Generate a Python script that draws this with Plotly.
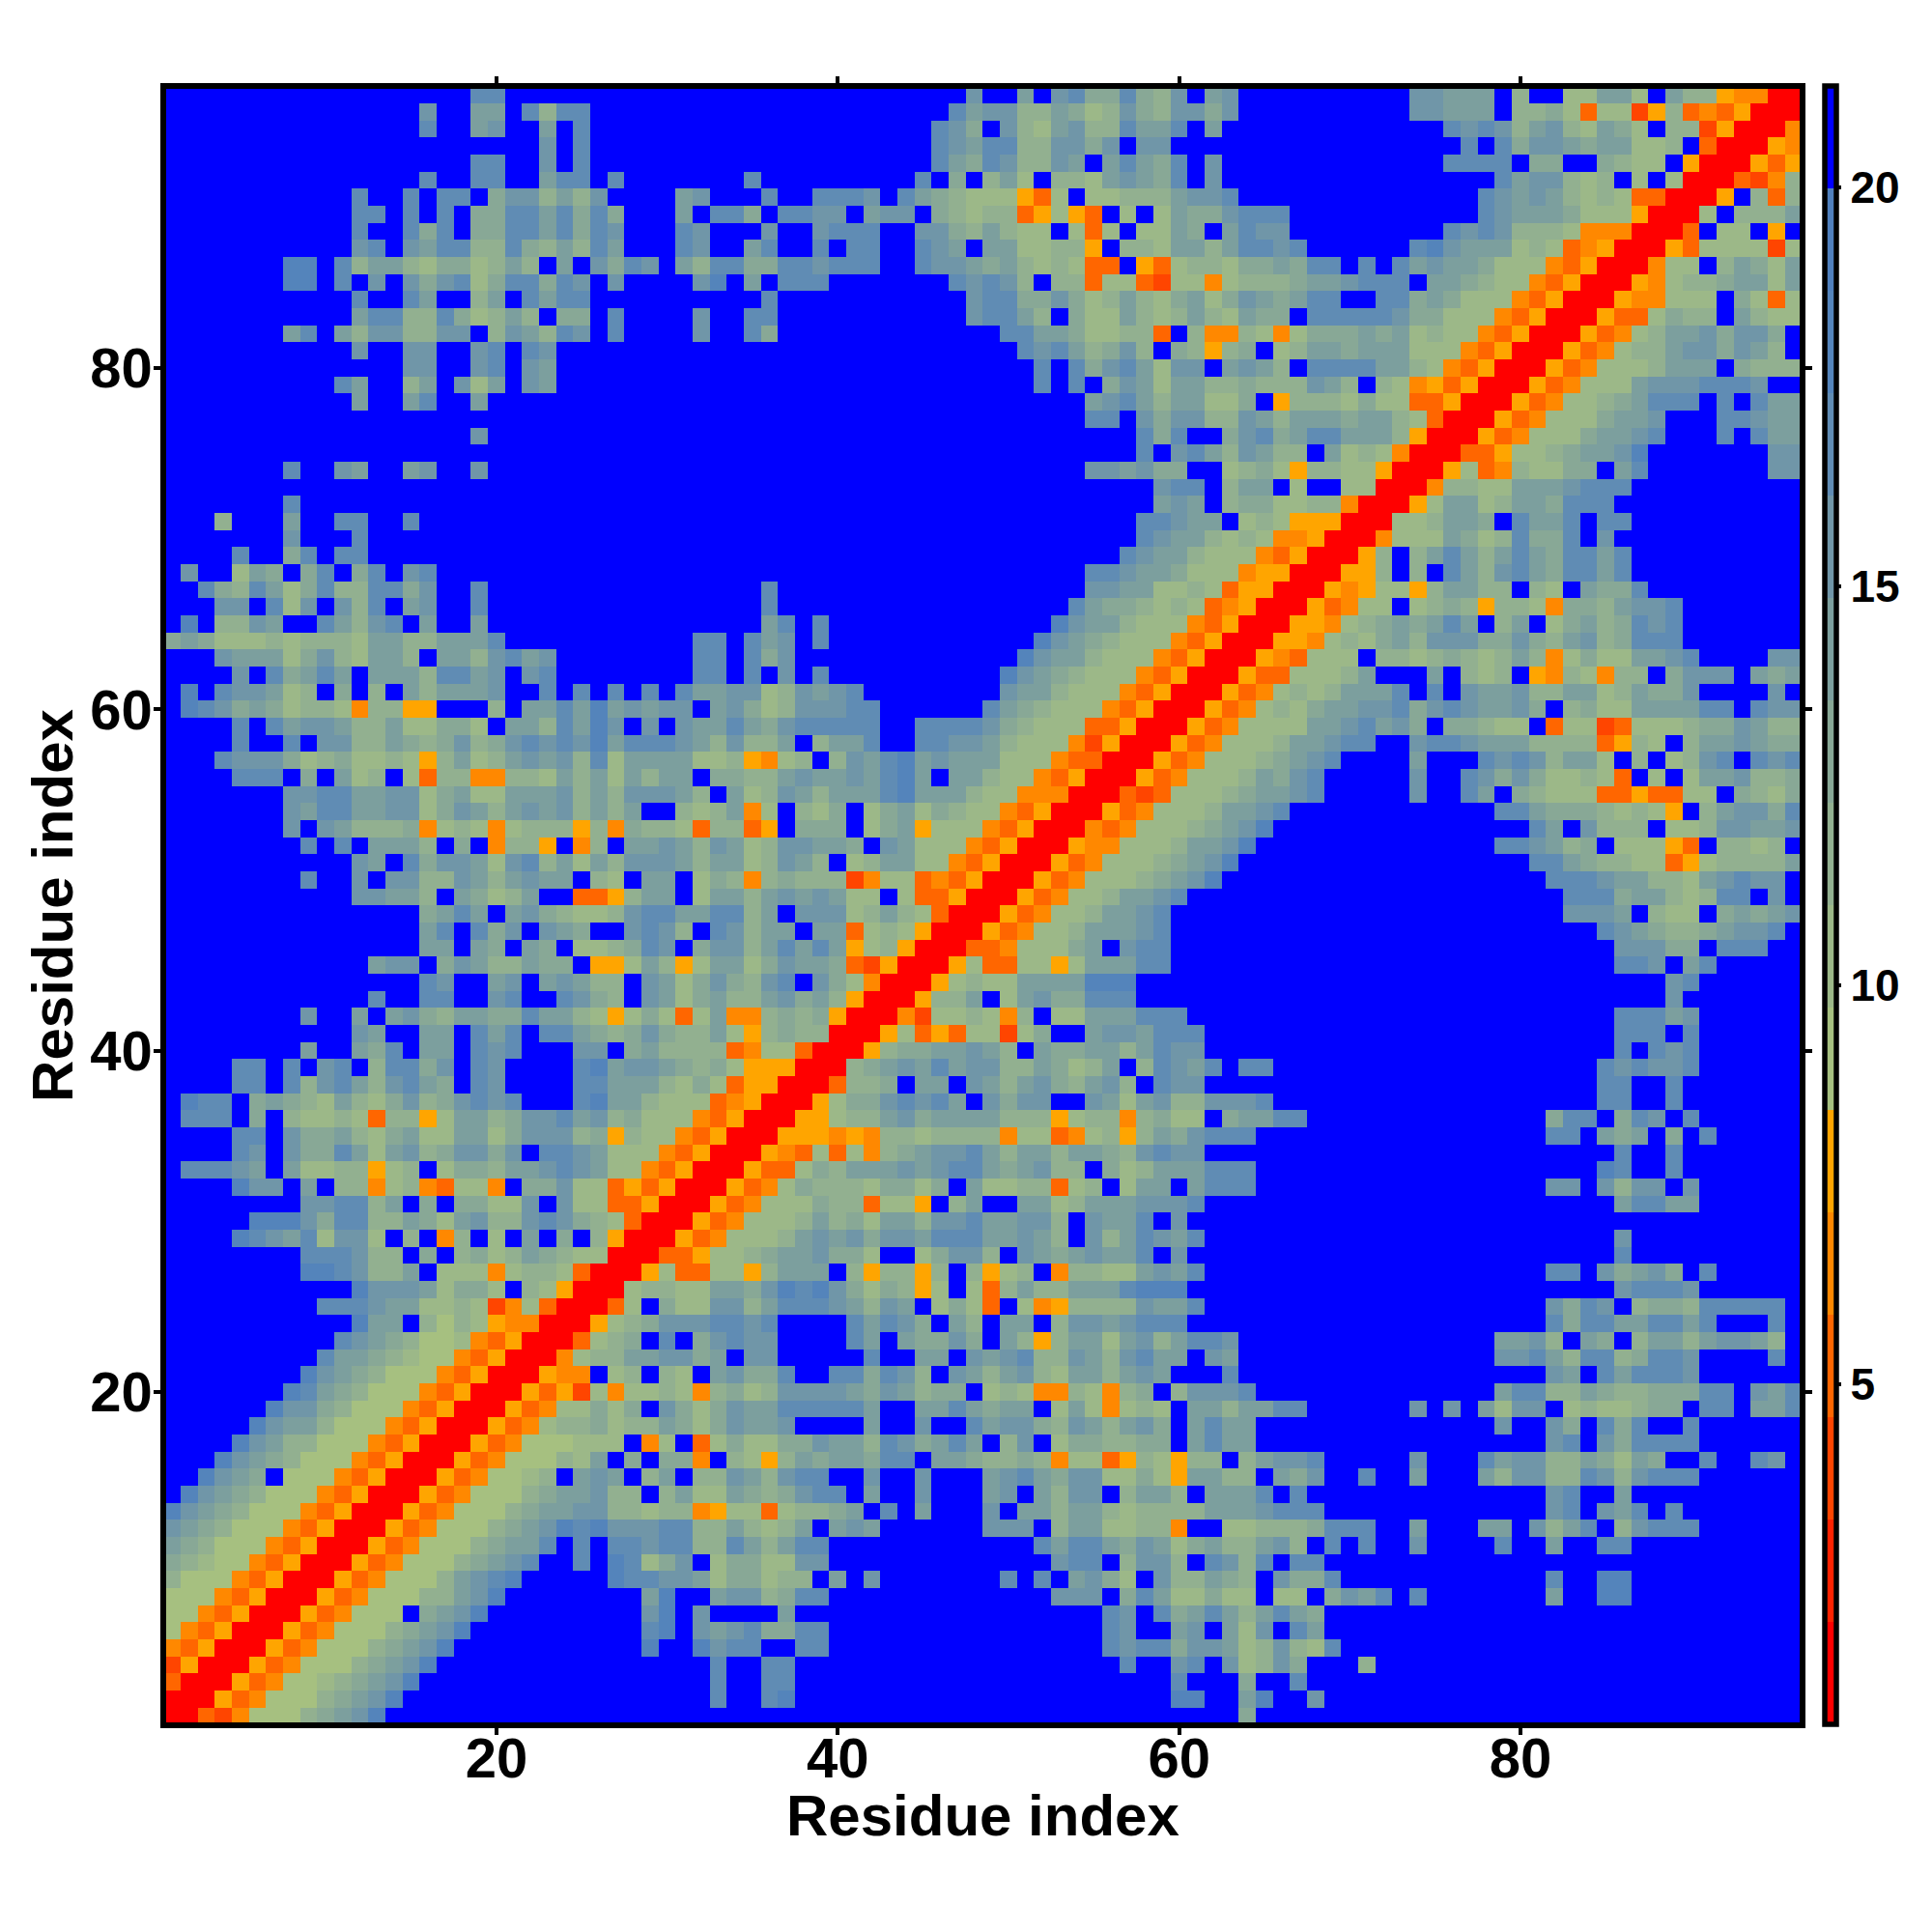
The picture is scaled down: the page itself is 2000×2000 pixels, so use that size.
import plotly.graph_objects as go

# Values are read row by row from the picture; every character is one residue pair.
# A row is split in three stretches: residues up to 32, residues 33-64, residues 65-96.
# The map is symmetric, so only the part with column >= row is listed.
SEG_A = [
 "0032466689abd",
 "0053466689abd",
 "0053466789abd",
 "0053466689abd",
 "0053466689abd...........d..d",
 "0053466689abd..........cd.b",
 "00534666.9abd.........bd.b",
 "0053466688abd........ad..",
 "005346668abcd.....dccbba",
 "0053466689abc..c.dc79b.",
 "0053466689aac.c.ccbcc8",
 "0053466689abdcdbbbcc8",
 "0053466689aabb887884",
 "0053466689aab88.8a7",
 "005346678.aba.8a.8",
 "0053466687a.9.994",
 "00534666777.47.3",
 "005347889788a97",
 "0053477979.b97",
 "0053527477874",
 "00544.78.87.",
 "004788aabb9",
 "003789.c.9",
 "005789bbb",
 "0037.977",
 "0078877",
 "005733",
 "00335",
 "0053",
 "005",
 "00",
 "0",
]

SEG_B = [
 "..........|..........|..........|.9",
 "c..cd.....|..........|.......dd.|.a",
 "c..cc.....|..........|.......c..|.9",
 "c..cc.....|..........|....c..bc.|b7",
 "bcc..cc...|..........|...cbcc9bb|a7",
 "abc99cc...|..........|...cb..ab.|a7",
 "....a.....|..........|...cb.c9ac|a8",
 "abb89cc...|..........|bbb.9ca779|77",
 "799788.a.b|.......c.c|.ab97.b88a|98",
 "79977bb...|..........|bcc.8bb8.c|b8",
 "8ca8acc...|.........c|acca9ba79a|88",
 "8a878a.aba|......bbb.|8aa77884..|77",
 "57737889a.|c.a...b.aa|8aa878888a|aa",
 "7a989bcc.a|..b...ab.a|8bb.8aa8.a|aa",
 "8ba8bcc..b|..b...abca|9bb77975aa|88",
 ".8758a9aa9|cc.aa98898|4773587588|.8",
 "797799baa8|cb9aca.8b.|7998899.ac|aa",
 "9baab....a|..b..cabb9|8ba8ab9.ac|aa",
 "9baaccccca|..aaca9aa.|7a74787.aa|8a",
 "8978bbbba9|ba899.7874|487489.8bb|bc",
 "ab99c..cc9|cb8.ba8ab8|7aa8aba...|c.",
 "a.bb.....c|..aa.babc8|8ba8bcaa.b|a.",
 "bcbb....ca|.a99b9.a85|8aa7ab8acc|b.",
 "ccbc....ca|cb9.a8.aa.|8bbabccc..|..",
 "bb8acccba8|ba.7973.74|58888baac.|..",
 "aa9bdcdb97|9857.738a8|8aaacddd..|..",
 "7758aaa.85|8858.8578.|48877abac.|..",
 "7789aab997|..79bb8.ba|9abaac.b..|..",
 "47778abab9|bbacccaaba|8.b8acbac.|..",
 "347778a897|aa8bbcaabb|8.baac.b..|..",
 "5347779883|775.8a..aa|78aaabbbc.|..",
 "0534798887|9979.a7788|378.7aa.ac|cc",
 "00533798aa|ababcca9ab|88.978aaac|cc",
 "0005437374|89abbca8aa|8aa98bcbb.|..",
 "0000555454|8878888477|347858a9bc|cc",
 "0000055788|ab9aaaa888|578848977.|9a",
 "0000005799|bcbca.b9bb|..ba7ab88b|bb",
 "0000000388|9.aa.ba8ab|98ab8.cbb.|..",
 "0000000089|abacabb88a|978a.8cbac|.c",
 "0000000005|899aaba8.a|99aa8acbb.|..",
 "0000000000|5735377279|..abbaccc.|..",
 "0000000000|042778748.|77aaaccc..|..",
 "0000000000|00588a.7ab|99ccc.....|..",
 "0000000000|00057877aa|aaddd.....|..",
 "0000000000|0000573377|57aaacc...|..",
 "0000000000|0000033477|79a.bcc...|..",
 "0000000000|0000005347|78aaabc...|..",
 "0000000000|0000000534|778aabc...|..",
 "0000000000|0000000053|4778aabc..|..",
 "0000000000|0000000005|3477789abd|..",
 "0000000000|0000000000|53477789ab|d.",
 "0000000000|0000000000|05447778aa|bd",
 "0000000000|0000000000|0043477789|ab",
 "0000000000|0000000000|0005347778|aa",
 "0000000000|0000000000|0000323777|89",
 "0000000000|0000000000|0000053477|78",
 "0000000000|0000000000|0000005347|77",
 "0000000000|0000000000|0000000534|77",
 "0000000000|0000000000|0000000053|47",
 "0000000000|0000000000|0000000005|34",
 "0000000000|0000000000|0000000000|53",
 "0000000000|0000000000|0000000000|05",
 "0000000000|0000000000|0000000000|00",
 "0000000000|0000000000|0000000000|00",
]

SEG_C = [
 "..........|..........|..........|..",
 "d..b......|..........|..........|..",
 "..c.......|..........|..........|..",
 "8b9...8...|..........|..........|..",
 "8b87c.....|..........|..........|..",
 "b.ca......|..........|..........|..",
 "aca9......|..........|..........|..",
 ".77.9bac.c|.......a..|dd........|..",
 ".b99c.....|.......c..|dd........|..",
 "c.cc......|..........|..........|..",
 "ab8.c.c..b|....c..a..|cc........|..",
 "8889ccc..a|...aa.b8ac|.8bccc....|..",
 "bccc......|.......bc.|bac.c.....|..",
 "c.c.......|.......bc.|.a........|..",
 ".a9b..c..a|...a8bb88c|b8bccc....|..",
 "abbc.....b|...cabb88a|97a9..c..c|b.",
 "..........|.......bc.|b9cccc....|..",
 "..........|....b..b9.|c9c..c....|..",
 "acc......b|.b.a7bb.78|77899.cc.a|ac",
 "..........|....acc88a|988999cc.b|ac",
 "..........|.......ba.|cacccb....|..",
 "..........|....bbca8c|c89ccb....|c.",
 "..........|....aab8.a|9.8aa8abba|8.",
 "..........|.......c9c|caaccac...|c.",
 "..........|.......b9c|b.8998cccc|c.",
 "..........|..........|.bcccb....|..",
 "..........|.......cc.|b9ab9.c...|..",
 "..........|..........|.c........|..",
 "..........|..........|.b........|..",
 "..........|..........|..........|..",
 "..........|..........|.accaa....|..",
 "..........|.......bb.|b8bb.b....|..",
 "..........|..........|dc..c.....|..",
 "..........|..........|.c..c.....|..",
 "..........|.......cc.|a9a.9.c...|..",
 "acc.......|.......9cc|.9cb.c....|..",
 "c.........|..........|cc..c.....|..",
 "..........|..........|cc..c.....|..",
 "c.........|..........|cbcbbc....|..",
 "..........|..........|.c.cbc....|..",
 "..........|..........|.ccc.c....|..",
 "..........|..........|.cccab....|..",
 "..........|..........|....b.....|..",
 "..........|..........|....bc....|..",
 "..........|..........|.ccb.ac...|..",
 "..........|..........|.bbb99.ccc|..",
 "..........|..........|cba9889abb|c.",
 "..........|........bb|ba.877.9a9|ab",
 "..........|........cc|c9aa878cc.|b.",
 "..........|.......ccc|baa887abcb|b.",
 "..........|......cca9|8877357888|8a",
 "..........|....ccba89|.77753.887|8.",
 "d.........|......ca.b|888.778bba|ab",
 "bc........|....cca999|87875.8abb|9c",
 "aabc.....b|..ca.98777|3353377.98|79",
 "a9bc.....b|..cb9b9778|73.7.7aab8|89",
 "89abc....a|...cbcb8aa|7.8.78bc.c|bc",
 "78aabcc..b|ccbaaa8888|3587.8aaba|99",
 "777aabcab9|.99877.377|23777899ba|88",
 "7879aabbc9|bcbaab9.89|77aaaacc.c|bb",
 "47878aaac.|c.baab88aa|78a99b....|b.",
 "337778a...|a.878.5487|488.9bbb.a|9a",
 "543777.887|89878a8479|77aabc....|bb",
 "05547879a8|bbb99b98ab|89ccc.....|..",
 "00554789a9|aca.8a.79a|89cbc.....|..",
 "00053477.7|8985887499|8abbc.....|..",
 "0000545775|8aa88.87.a|99c.......|..",
 "00000558.8|.ca8bca9cc|ac........|..",
 "00000058.8|aca8aca9cc|ac........|..",
 "0000000477|7a978c99c.|b.........|..",
 "0000000077|8aa9.caac.|cc........|..",
 "0000000005|7aa78aa9cc|c.........|..",
 "0000000000|48877aaabc|cc........|..",
 "0000000000|0573487799|.ac.......|bb",
 "0000000000|003357789a|abd.......|bb",
 "0000000000|0005347779|aabc...c.c|aa",
 "0000000000|0000534777|9aab...ccb|aa",
 "0000000000|0000053477|89accc.c.c|aa",
 "0000000000|0000005347|77abbbcccb|..",
 "0000000000|0000000534|7778aaa.98|88",
 "0000000000|0000000053|4788abb9ba|8.",
 "0000000000|0000000005|3478aab9bb|9.",
 "0000000000|0000000000|5337988.a8|77",
 "0000000000|0000000000|0544777.97|37",
 "0000000000|0000000000|00547889aa|7a",
 "0000000000|0000000000|000477.8a9|7a",
 "0000000000|0000000000|0000537777|27",
 "0000000000|0000000000|000003.77.|5.",
 "0000000000|0000000000|0000007.88|8a",
 "0000000000|0000000000|00000005.8|38",
 "0000000000|0000000000|0000000032|48",
 "0000000000|0000000000|0000000005|35",
 "0000000000|0000000000|0000000000|54",
 "0000000000|0000000000|0000000000|04",
 "0000000000|0000000000|0000000000|00",
 "0000000000|0000000000|0000000000|00",
]

LEVELS = "0123456789abcde."
# Distance read at the middle of each colour band of the bar.
LEVEL_DIST = [1.37, 2.65, 3.94, 5.22, 6.50, 7.79, 9.07, 10.35, 11.64,
              12.92, 14.20, 15.49, 16.77, 18.05, 19.34, 20.62]
BAND_COLORS = ["#FF0000", "#FF2200", "#FF4500", "#FF6600", "#FF8800", "#FFA500",
               "#A6C080", "#9CB888", "#92B090", "#88A896", "#7C9F9E",
               "#7096A8", "#608CB4", "#5484BB", "#5080BD", "#0000FF"]
ZMIN, ZMAX = 0.73, 21.26
TICKS = [20, 40, 60, 80]
BAR_TICKS = [5, 10, 15, 20]
TITLE = "Residue index"

N = 96
z = [[LEVEL_DIST[15]] * N for _ in range(N)]


def put(row, first, text):
    text = text.replace("|", "")
    for k, ch in enumerate(text):
        col = first + k
        if col >= row and col <= N:
            v = LEVEL_DIST[LEVELS.index(ch)]
            z[row - 1][col - 1] = v
            z[col - 1][row - 1] = v


for i, s in enumerate(SEG_A):
    put(i + 1, i + 1, s)
for i, s in enumerate(SEG_B):
    put(i + 1, 33, s)
for i, s in enumerate(SEG_C):
    put(i + 1, 65, s)

scale = []
for i, c in enumerate(BAND_COLORS):
    scale.append([i / 16, c])
    scale.append([(i + 1) / 16, c])

axis_x = list(range(1, N + 1))
# inner frame; the spine is drawn just outside of it and hides the outer cell edges
L, R, T, B = 172.0, 1863.5, 92.0, 1783.5
AX_RANGE = [0.647, 96.35]
FONT = "Liberation Sans"

fig = go.Figure(go.Heatmap(
    z=z, x=axis_x, y=axis_x, zmin=ZMIN, zmax=ZMAX, colorscale=scale, zsmooth=False,
    hoverongaps=False,
    colorbar=dict(
        x=(1889.5 - L) / (R - L), xanchor="left", xref="paper",
        y=(1783.5 - 1786.0) / (B - T), yanchor="bottom", yref="paper",
        len=(1786.0 - 89.4) / (B - T), lenmode="fraction",
        thickness=12, thicknessmode="pixels", xpad=0, ypad=0,
        outlinewidth=5.5, outlinecolor="black", borderwidth=0,
        tickmode="array", tickvals=BAR_TICKS, ticktext=[str(t) for t in BAR_TICKS],
        ticks="outside", ticklen=3, tickwidth=4, tickcolor="black",
        tickfont=dict(family=FONT, size=46, color="black", weight=700),
    ),
))

axis_common = dict(
    range=AX_RANGE, tickmode="array", tickvals=TICKS, ticktext=[str(t) for t in TICKS],
    ticks="outside", ticklen=7, tickwidth=4, tickcolor="black",
    showline=True, linewidth=5.5, linecolor="black", mirror="ticks",
    showgrid=False, zeroline=False, automargin=False,
    tickfont=dict(family=FONT, size=58, color="black", weight=700),
)
title_font = dict(family=FONT, size=60, color="black", weight=700)
fig.update_layout(
    width=2000, height=2000, autosize=False,
    margin=dict(l=L, r=2000 - R, t=T, b=2000 - B, pad=0),
    paper_bgcolor="white", plot_bgcolor="white",
    xaxis=dict(ticklabelstandoff=-25, **axis_common),
    yaxis=dict(title=dict(text=TITLE, font=title_font, standoff=0), ticklabelstandoff=-10, **axis_common),
    annotations=[dict(text=TITLE, font=title_font, showarrow=False,
                      xref="paper", yref="paper", x=0.5, xanchor="center",
                      y=-(1880 - B) / (B - T), yanchor="middle")],
)
fig.write_html("out.html", post_script="document.body.style.margin='0';",
               config=dict(displayModeBar=False))
